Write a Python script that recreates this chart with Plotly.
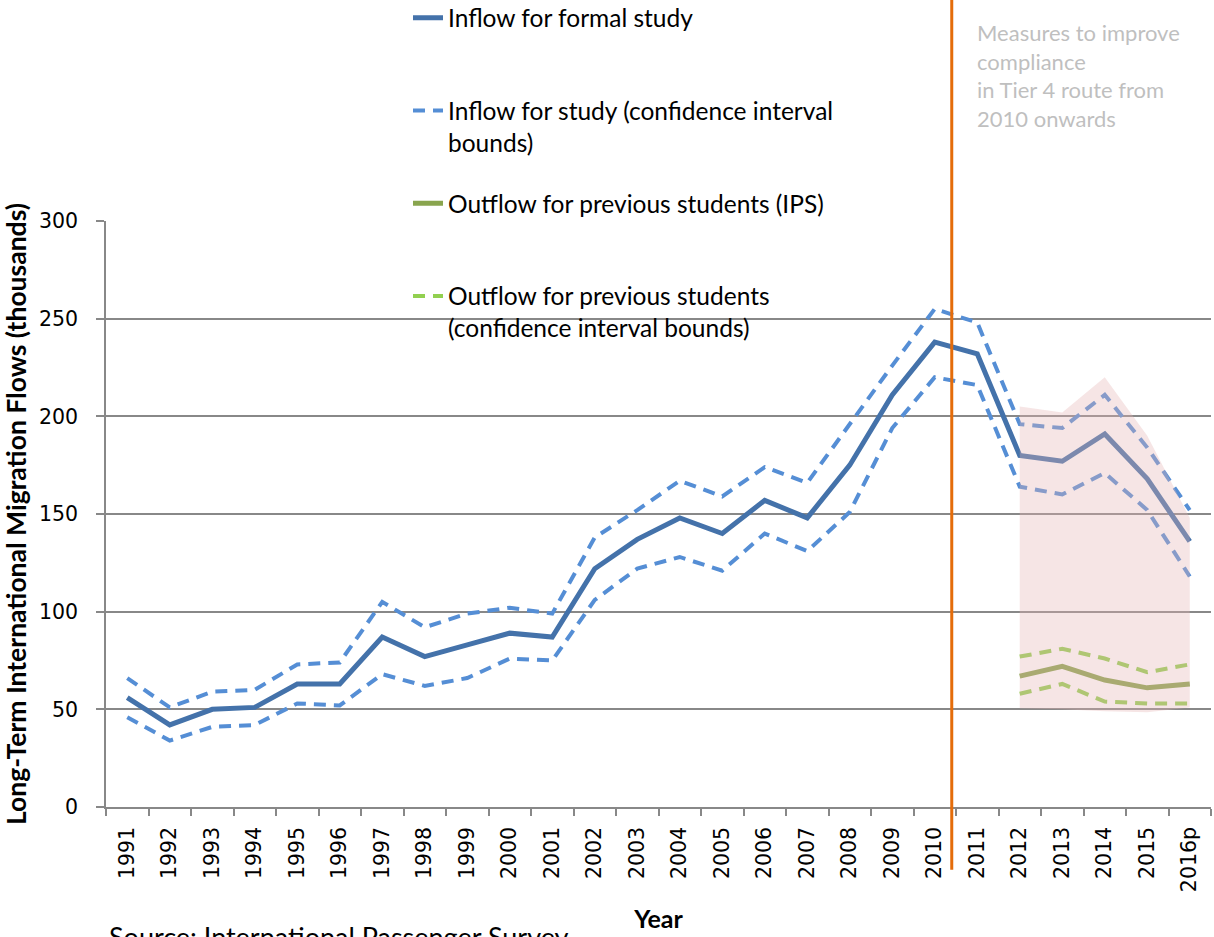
import plotly.graph_objects as go

years = [str(y) for y in range(1991, 2016)] + ["2016p"]

inflow = [56, 42, 50, 51, 63, 63, 87, 77, 83, 89, 87, 122, 137, 148, 140, 157, 148, 175, 211, 238, 232, 180, 177, 191, 168, 136]
inflow_upper = [66, 51, 59, 60, 73, 74, 105, 92, 99, 102, 99, 138, 152, 167, 159, 174, 166, 196, 226, 255, 248, 196, 194, 211, 184, 152]
inflow_lower = [46, 34, 41, 42, 53, 52, 68, 62, 66, 76, 75, 106, 122, 128, 121, 140, 131, 151, 194, 220, 216, 164, 160, 171, 152, 118]

out_years = ["2012", "2013", "2014", "2015", "2016p"]
outflow = [67, 72, 65, 61, 63]
outflow_upper = [77, 81, 76, 69, 73]
outflow_lower = [58, 63, 54, 53, 53]

shade_top = [205, 202, 220, 190, 148]
shade_bottom = [50.5, 50, 49, 48.5, 51]

BLUE = "#4472AA"
LBLUE = "#558ED5"
OLIVE = "#89A54E"
LGREEN = "#92D050"
GRID = "#888888"
NB = "\u00a0"

fig = go.Figure()
fig.add_trace(go.Scatter(x=years, y=inflow, mode="lines", name="Inflow for formal study<br>" + NB,
                         line=dict(color=BLUE, width=5), legendgroup="a"))
fig.add_trace(go.Scatter(x=years, y=inflow_upper, mode="lines",
                         name="Inflow for study (confidence interval<br>bounds)",
                         line=dict(color=LBLUE, width=4, dash="12px,8px"), legendgroup="b"))
fig.add_trace(go.Scatter(x=years, y=inflow_lower, mode="lines", showlegend=False,
                         line=dict(color=LBLUE, width=4, dash="12px,8px"), legendgroup="b"))
fig.add_trace(go.Scatter(x=out_years, y=outflow, mode="lines", name="Outflow for previous students (IPS)<br>" + NB,
                         line=dict(color=OLIVE, width=5), legendgroup="c"))
fig.add_trace(go.Scatter(x=out_years, y=outflow_upper, mode="lines",
                         name="Outflow for previous students<br>(confidence interval bounds)",
                         line=dict(color=LGREEN, width=4, dash="12px,8px"), legendgroup="d"))
fig.add_trace(go.Scatter(x=out_years, y=outflow_lower, mode="lines", showlegend=False,
                         line=dict(color=LGREEN, width=4, dash="12px,8px"), legendgroup="d"))
fig.add_trace(go.Scatter(x=out_years + out_years[::-1], y=shade_top + shade_bottom[::-1],
                         fill="toself", mode="lines", line=dict(width=0),
                         fillcolor="rgba(228,180,180,0.35)", showlegend=False, hoverinfo="skip"))

fig.add_shape(type="line", xref="x", yref="paper", x0=19.4, x1=19.4, y0=-0.107, y1=1.38,
              line=dict(color="#E46C0A", width=3))

fig.add_annotation(xref="paper", yref="paper", x=0.786, y=1.3485, xanchor="left", yanchor="top",
                   text="Measures to improve<br>compliance<br>in Tier 4 route from<br>2010 onwards",
                   showarrow=False, align="left", font=dict(family="Lato", size=22, color="#BFBFBF"))
fig.add_annotation(xref="paper", yref="paper", x=0.0005, y=-0.1886, xanchor="left", yanchor="top",
                   text="Source: International Passenger Survey", showarrow=False,
                   font=dict(family="Lato", size=27, color="#000000"))

fig.update_layout(
    width=1214, height=937,
    margin=dict(l=106, r=3, t=221, b=130, autoexpand=False),
    paper_bgcolor="white", plot_bgcolor="white",
    font=dict(family="Lato", color="#000000"),
    legend=dict(x=0.2733, y=1.385, xanchor="left", yanchor="top", font=dict(family="Lato", size=24.5),
                bgcolor="rgba(0,0,0,0)", tracegroupgap=26, valign="top", traceorder="grouped"),
    xaxis=dict(type="category", showgrid=False, showline=True, linecolor=GRID, linewidth=1.5,
               ticks="outside", tickson="boundaries", ticklen=7, tickcolor=GRID, tickwidth=1.5,
               tickangle=-90, ticklabelstandoff=10,
               tickfont=dict(family="DejaVu Sans", size=20.5, color="#000"),
               title=dict(text="<b>Year</b>", font=dict(family="Lato", size=25), standoff=19),
               range=[-0.5, 25.5]),
    yaxis=dict(range=[0, 300], dtick=50, showgrid=True, gridcolor=GRID, gridwidth=1.5,
               showline=True, linecolor=GRID, linewidth=1.5, ticks="outside", ticklen=8,
               tickcolor=GRID, tickwidth=1.5, zeroline=False, ticklabelstandoff=14,
               tickfont=dict(family="DejaVu Sans", size=20.5, color="#000"),
               title=dict(text="<b>Long-Term International Migration Flows (thousands)</b>",
                          font=dict(family="Lato", size=26.5), standoff=10)),
)

fig.write_html("out.html", config={"displayModeBar": False},
               post_script="document.body.style.margin='0';")
